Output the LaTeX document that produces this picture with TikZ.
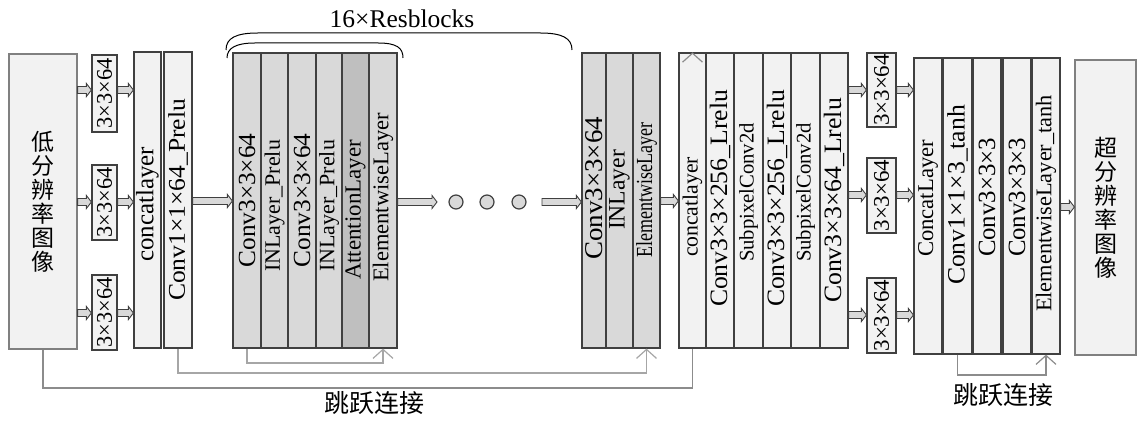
\documentclass[tikz,border=0pt]{standalone}
\usepackage{fontspec}
\setmainfont{Liberation Serif}
\newfontfamily\cjk{Noto Sans CJK SC}
\usetikzlibrary{calc,arrows.meta}
\definecolor{lf}{HTML}{F2F2F2}
\definecolor{df}{HTML}{D9D9D9}
\definecolor{af}{HTML}{BFBFBF}
\definecolor{bd}{HTML}{404040}
\definecolor{bg}{HTML}{808080}
\definecolor{sk}{HTML}{A6A6A6}
\definecolor{skd}{HTML}{8C8C8C}
\newcommand\fsz[1]{\fontsize{#1pt}{#1pt}\selectfont}
\newlength\vtlen
% vertical text: target length (px), shift up (px), text
\newcommand\vtu[3]{\settowidth\vtlen{#3}\pgfmathsetmacro\vtsf{#1*0.5pt/\vtlen}%
  \rotatebox[origin=c]{90}{\ifdim#2pt<0pt\scalebox{\vtsf}[1]{#3}\hspace*{-#2pt}\else\hspace*{#2pt}\scalebox{\vtsf}[1]{#3}\fi}}
\newcommand\blockarrow[2]{\path[barrowsty] ($#1+(0,-3.5)$) -- ($#2+(-5,-3.5)$) -- ($#2+(-5,-6.5)$) -- #2 -- ($#2+(-5,6.5)$) -- ($#2+(-5,3.5)$) -- ($#1+(0,3.5)$) -- cycle;}
% name, style, x1, y1, x2, y2, text
\newcommand\colbox[7]{%
  \pgfmathsetmacro\cbw{(#5-#3)*0.5}\pgfmathsetmacro\cbh{(#6-#4)*0.5}%
  \pgfmathsetmacro\cbx{(#3+#5)/2}\pgfmathsetmacro\cby{(#4+#6)/2}%
  \node[#2, minimum width=\cbw pt, minimum height=\cbh pt] (#1) at (\cbx,\cby) {#7};}
\begin{document}
\begin{tikzpicture}[x=0.5pt,y=-0.5pt,
  colL/.style={draw=bd, fill=lf, line width=0.6pt, inner sep=0pt},
  colD/.style={draw=bd, fill=df, line width=0.6pt, inner sep=0pt},
  colA/.style={draw=bd, fill=af, line width=0.6pt, inner sep=0pt},
  bigbox/.style={draw=bg, fill=lf, line width=0.6pt, inner sep=0pt, align=center, font=\cjk\fontsize{11.5pt}{12pt}\selectfont},
  sbox/.style={draw=bd, fill=lf, line width=0.6pt, inner sep=0pt, font=\fsz{11.2}},
  dotc/.style={circle, draw=bd, fill=df, line width=0.6pt, minimum size=7pt, inner sep=0pt},
  barrowsty/.style={draw=bd, fill=df, line width=0.45pt},
  skipL/.style={draw=sk, line width=0.6pt},
  skipD/.style={draw=skd, line width=0.6pt},
  vtip/.style={-{Straight Barb[length=4.5pt,width=10pt,line width=0.6pt]}},
  brace/.style={draw=black, line width=0.5pt},
  lbl/.style={font=\cjk\fontsize{12.5pt}{13pt}\selectfont, inner sep=0pt}
]
\useasboundingbox (0,0) rectangle (1138,421);

% ---- left part ----
\colbox{lr}{bigbox}{9}{54}{77}{349}{低\\分\\辨\\率\\图\\像}
\colbox{s1}{sbox}{92}{55}{117}{132}{\vtu{70}{0}{3×3×64}}
\colbox{s2}{sbox}{92}{165}{117}{240}{\vtu{70}{0}{3×3×64}}
\colbox{s3}{sbox}{92}{275}{117}{350}{\vtu{70}{0}{3×3×64}}
\colbox{c1}{colL,font=\fsz{12.5}}{134}{52}{161}{348}{\vtu{115}{-4.5}{concatlayer}}
\colbox{c2}{colL,font=\fsz{12}}{164}{52}{192}{348}{\vtu{202}{0}{Conv1×1×64\_Prelu}}

% ---- resblock ----
\colbox{r1}{colD,font=\fsz{12.3}}{233}{53}{261}{348}{\vtu{134}{0}{Conv3×3×64}}
\colbox{r2}{colD,font=\fsz{11}}{261}{53}{288}{348}{\vtu{132}{-5.5}{INLayer\_Prelu}}
\colbox{r3}{colD,font=\fsz{12.3}}{288}{53}{316}{348}{\vtu{134}{0}{Conv3×3×64}}
\colbox{r4}{colD,font=\fsz{11}}{316}{53}{342}{348}{\vtu{132}{-5.5}{INLayer\_Prelu}}
\colbox{r5}{colA,font=\fsz{11.5}}{342}{53}{369}{348}{\vtu{140}{-9.5}{AttentionLayer}}
\colbox{r6}{colD,font=\fsz{11.25}}{369}{53}{397}{348}{\vtu{169}{3}{ElementwiseLayer}}

\node[dotc] (d1) at (456,202) {};
\node[dotc] (d2) at (487,202) {};
\node[dotc] (d3) at (519,202) {};
\coordinate (e1) at (437,202);
\coordinate (e2) at (542,202);

% ---- second block ----
\colbox{b1}{colD,font=\fsz{12.8}}{582}{53}{606}{348}{\vtu{143}{12}{Conv3×3×64}}
\colbox{b2}{colD,font=\fsz{11.8}}{606}{53}{633}{348}{\vtu{80}{10.5}{INLayer}}
\colbox{b3}{colD,font=\fsz{11.5}}{633}{53}{660}{348}{\vtu{135}{10}{ElementwiseLayer}}

% ---- upsampling block ----
\colbox{q1}{colL,font=\fsz{10.8}}{679}{53}{706}{348}{\vtu{100}{-6.5}{concatlayer}}
\colbox{q2}{colL,font=\fsz{12.5}}{706}{53}{734}{348}{\vtu{217}{2}{Conv3×3×256\_Lrelu}}
\colbox{q3}{colL,font=\fsz{10.4}}{734}{53}{763}{348}{\vtu{139}{8}{SubpixelConv2d}}
\colbox{q4}{colL,font=\fsz{12.5}}{763}{53}{791}{348}{\vtu{217}{2}{Conv3×3×256\_Lrelu}}
\colbox{q5}{colL,font=\fsz{10.4}}{791}{53}{820}{348}{\vtu{139}{8}{SubpixelConv2d}}
\colbox{q6}{colL,font=\fsz{12.5}}{820}{53}{848}{348}{\vtu{205}{0}{Conv3×3×64\_Lrelu}}

\colbox{t1}{sbox}{867}{53}{896}{127}{\vtu{72}{0}{3×3×64}}
\colbox{t2}{sbox}{867}{158}{896}{233}{\vtu{72}{0}{3×3×64}}
\colbox{t3}{sbox}{867}{278}{896}{353}{\vtu{72}{0}{3×3×64}}

% ---- output block ----
\colbox{u1}{colL,font=\fsz{11.3}}{914}{58}{942}{354}{\vtu{117}{7.5}{ConcatLayer}}
\colbox{u2}{colL,font=\fsz{12.5}}{943}{58}{972}{354}{\vtu{180}{11}{Conv1×1×3\_tanh}}
\colbox{u3}{colL,font=\fsz{12.4}}{973}{58}{1001}{354}{\vtu{119}{8.5}{Conv3×3×3}}
\colbox{u4}{colL,font=\fsz{12.4}}{1003}{58}{1031}{354}{\vtu{119}{8.5}{Conv3×3×3}}
\colbox{u5}{colL,font=\fsz{11.2}}{1032}{58}{1060}{354}{\vtu{217}{2.5}{ElementwiseLayer\_tanh}}
\colbox{hr}{bigbox}{1075}{60}{1136}{355}{超\\分\\辨\\率\\图\\像}

% ---- block arrows ----
\blockarrow{(lr.east |- 0,90)}{(s1.west |- 0,90)}
\blockarrow{(lr.east |- 0,202)}{(s2.west |- 0,202)}
\blockarrow{(lr.east |- 0,313)}{(s3.west |- 0,313)}
\blockarrow{(s1.east |- 0,90)}{(c1.west |- 0,90)}
\blockarrow{(s2.east |- 0,202)}{(c1.west |- 0,202)}
\blockarrow{(s3.east |- 0,313)}{(c1.west |- 0,313)}
\blockarrow{(c2.east |- 0,201)}{(r1.west |- 0,201)}
\blockarrow{(r6.east |- e1)}{(e1)}
\blockarrow{(e2)}{(b1.west |- e2)}
\blockarrow{(b3.east |- 0,201)}{(q1.west |- 0,201)}
\blockarrow{(q6.east |- 0,90)}{(t1.west |- 0,90)}
\blockarrow{(q6.east |- 0,195)}{(t2.west |- 0,195)}
\blockarrow{(q6.east |- 0,315)}{(t3.west |- 0,315)}
\blockarrow{(t1.east |- 0,90)}{(u1.west |- 0,90)}
\blockarrow{(t2.east |- 0,195)}{(u1.west |- 0,195)}
\blockarrow{(t3.east |- 0,315)}{(u1.west |- 0,315)}
\blockarrow{(u5.east |- 0,207)}{(hr.west |- 0,207)}

% ---- skip connections ----
\draw[skipL, vtip] (r1.south) -- (r1.south |- 0,363) -| (r6.south);
\draw[skipL, vtip] (c2.south) -- (c2.south |- 0,373) -| (b3.south);
\draw[skipD] (lr.south) -- (lr.south |- 0,388) -| (q1.south);
\draw[skipD, vtip] ($(q1.north)+(0,1)$) -- (q1.north);
\draw[skipD, vtip] (u2.south) -- (u2.south |- 0,375) -| (u5.south);

% ---- braces and labels ----
\draw[brace] (226,50) .. controls (226,38) and (236,33) .. (258,33) -- (540,33) .. controls (562,33) and (572,38) .. (572,50);
\draw[brace] (227,58) .. controls (227,48) and (236,43) .. (255,43) -- (378,43) .. controls (397,43) and (403,48) .. (403,58);
\node[font=\fsz{12.75}, inner sep=0pt] (title) at (402,19) {16×Resblocks};
\node[lbl] (lab1) at (374,403) {跳跃连接};
\node[lbl] (lab2) at (1003,395) {跳跃连接};
\end{tikzpicture}
\end{document}
